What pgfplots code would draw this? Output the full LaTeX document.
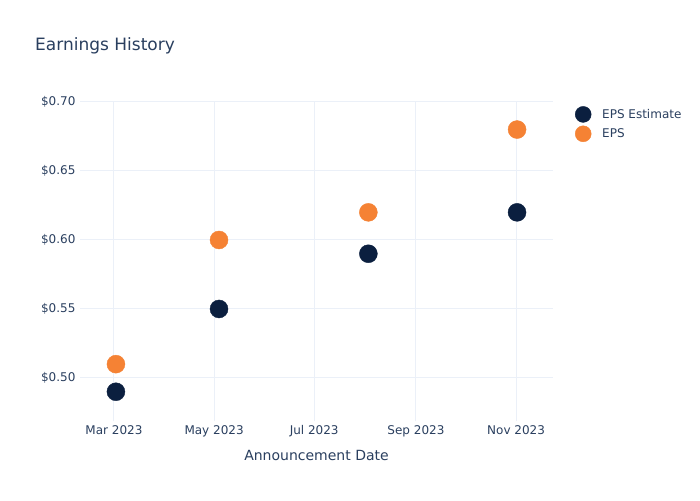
\documentclass[border=0pt]{standalone}
\usepackage{pgfplots}
\pgfplotsset{compat=1.18}
\usepackage{fontspec}
\setmainfont{DejaVu Sans}
\definecolor{txt}{HTML}{2A3F5F}
\definecolor{gridc}{HTML}{EBF0F8}
\definecolor{navy}{HTML}{0B1F3F}
\definecolor{orng}{HTML}{F58234}
\begin{document}
\begin{tikzpicture}[x=1pt,y=1pt]
\path[use as bounding box,fill=white] (0,0) rectangle (700,500);
\node[anchor=west,text=txt,font=\fontsize{17}{20}\selectfont,inner sep=0] at (35,454.5) {Earnings History};
\begin{axis}[
  at={(80pt,79pt)}, anchor=south west,
  scale only axis, width=473pt, height=320pt,
  xmin=-20.7, xmax=267.5, ymin=0.4688, ymax=0.7007,
  axis line style={draw=none},
  tick style={draw=none},
  grid=major, major grid style={draw=gridc, line width=1pt},
  xtick={0,61,122,184,245},
  xticklabels={Mar 2023,May 2023,Jul 2023,Sep 2023,Nov 2023},
  ytick={0.5,0.55,0.6,0.65,0.7},
  yticklabels={\$0.50,\$0.55,\$0.60,\$0.65,\$0.70},
  ticklabel style={text=txt,font=\fontsize{12}{14}\selectfont},
  xticklabel style={yshift=-1pt},
  yticklabel style={xshift=-1pt},
  xlabel={Announcement Date},
  xlabel style={text=txt,font=\fontsize{14}{16}\selectfont, yshift=-6pt},
  legend style={at={(1,1)}, anchor=north west, xshift=18pt, yshift=-3pt, draw=none, fill=none,
    font=\fontsize{12}{14}\selectfont, text=txt, row sep=3pt},
  legend image code/.code={\path[draw=none] (-9pt,0pt) -- (17pt,0pt); \fill[#1] (0pt,0pt) circle (8pt);},
  legend cell align=left,
  clip=false,
]
\addplot[only marks, mark=*, mark size=9pt, color=navy] coordinates {(1.2,0.49) (64,0.55) (155,0.59) (245.6,0.62)};
\addlegendentry{EPS Estimate}
\addplot[only marks, mark=*, mark size=9pt, color=orng] coordinates {(1.2,0.51) (64,0.60) (155,0.62) (245.6,0.68)};
\addlegendentry{EPS}
\end{axis}
\end{tikzpicture}
\end{document}
